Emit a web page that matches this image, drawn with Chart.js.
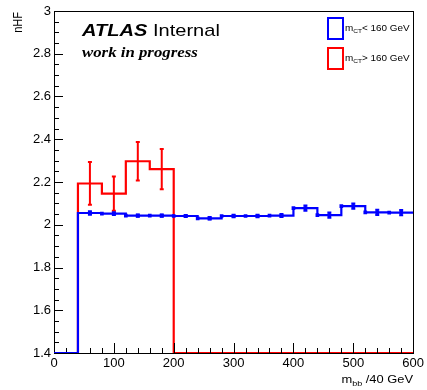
<!DOCTYPE html>
<html><head><meta charset="utf-8">
<script src="https://cdn.jsdelivr.net/npm/chart.js@4/dist/chart.umd.min.js"></script>
<style>html,body{margin:0;padding:0;background:#fff}#wrap{width:427px;height:390px;position:relative}</style>
</head><body><div id="wrap"><canvas id="c" width="427" height="390"></canvas></div>
<script>
// ---- data ----
const binEdges   = [0,40,80,120,160,200,240,280,320,360,400,440,480,520,560,600];
const blueValues = [0,2.055,2.052,2.043,2.043,2.041,2.030,2.041,2.041,2.043,2.078,2.045,2.087,2.058,2.057];
const blueErrors = [0,0.008,0.006,0.005,0.005,0.005,0.006,0.006,0.006,0.007,0.012,0.012,0.012,0.012,0.012];
const redValues  = [0,2.193,2.146,2.297,2.260,0,0,0,0,0,0,0,0,0,0];
const redErrors  = [0,0.100,0.080,0.090,0.094,0,0,0,0,0,0,0,0,0,0];
const blueMarkerX = [60,80,100,120,140,160,180,200,220,240,260,280,300,320,340,360,380,400,420,440,460,480,500,520,540,560,580];
const xTickValues = [0,100,200,300,400,500,600];
const yTickValues = [1.4,1.6,1.8,2,2.2,2.4,2.6,2.8,3];
const seriesLabels = [["m","CT","< 160 GeV"],["m","CT","> 160 GeV"]];
const xTitle = ["m","bb"," /40 GeV"];
const yTitle = "nHF";
const Y_MIN = 1.4, Y_MAX = 3, X_MIN = 0, X_MAX = 600;
const BLUE = '#0000ff', RED = '#ff0000';

function stepPoints(vals){
  const pts = vals.map((v,i)=>({x:binEdges[i], y:Math.max(v,Y_MIN)}));
  pts.push({x:binEdges[binEdges.length-1], y:Math.max(vals[vals.length-1],Y_MIN)});
  return pts;
}
function binOf(x){ let i=0; while(i<binEdges.length-2 && x>=binEdges[i+1]) i++; return i; }
const centers = binEdges.slice(0,-1).map((e,i)=>(e+binEdges[i+1])/2);

function richText(ctx, parts, x, y, align, size, subSize, subDrop, hs, style){
  ctx.save();
  const fam = '"Liberation Sans", Arial, sans-serif';
  const f1 = (style||'')+' '+size+'px '+fam, f2 = (style||'')+' '+subSize+'px '+fam;
  const fonts = parts.map((p,i)=> i%2===1 ? f2 : f1);
  let w = 0; const ws = parts.map((p,i)=>{ctx.font=fonts[i]; const m=ctx.measureText(p).width; w+=m; return m;});
  ctx.translate(x,y); ctx.scale(hs,1);
  let cx = align==='right' ? -w : 0;
  ctx.textBaseline='alphabetic'; ctx.textAlign='left';
  parts.forEach((p,i)=>{ ctx.font=fonts[i]; ctx.fillText(p, cx, i%2===1 ? subDrop : 0); cx += ws[i]; });
  ctx.restore();
}

const decor = {
  id:'decor',
  beforeDraw(chart){ const c=chart.ctx; c.save(); c.fillStyle='#fff'; c.fillRect(0,0,chart.width,chart.height); c.restore(); },
  afterDatasetDraw(chart,args){
    if(args.index!==2) return;
    const ctx=chart.ctx, a=chart.chartArea, xs=chart.scales.x, ys=chart.scales.y;
    ctx.save();
    ctx.strokeStyle='#000'; ctx.lineWidth=1;
    ctx.strokeRect(Math.round(a.left)+0.5, Math.round(a.top)+0.5, Math.round(a.right-a.left), Math.round(a.bottom-a.top));
    ctx.beginPath();
    for(let v=X_MIN; v<=X_MAX+1e-6; v+=20){
      const px=Math.round(xs.getPixelForValue(v))+0.5;
      const major = Math.abs(v%100)<1e-6;
      ctx.moveTo(px, a.bottom); ctx.lineTo(px, a.bottom-(major?10:5));
    }
    for(let k=0; k<=32; k++){
      const v=Y_MIN+k*0.05;
      const py=Math.round(ys.getPixelForValue(v))+0.5;
      const major = k%4===0;
      ctx.moveTo(a.left, py); ctx.lineTo(a.left+(major?9:5), py);
    }
    ctx.stroke();
    ctx.restore();
  },
  afterDatasetsDraw(chart){
    const ctx=chart.ctx, a=chart.chartArea, xs=chart.scales.x, ys=chart.scales.y;
    ctx.save();
    function bars(vals, errs, color, lw){
      ctx.strokeStyle=color; ctx.lineWidth=lw; ctx.beginPath();
      vals.forEach((v,i)=>{
        if(!errs[i]) return;
        const px=xs.getPixelForValue(centers[i]);
        const y1=ys.getPixelForValue(v-errs[i]), y2=ys.getPixelForValue(v+errs[i]);
        ctx.moveTo(px,y1); ctx.lineTo(px,y2);
        ctx.moveTo(px-2,y1); ctx.lineTo(px+2,y1);
        ctx.moveTo(px-2,y2); ctx.lineTo(px+2,y2);
      });
      ctx.stroke();
    }
    bars(redValues, redErrors, RED, 2);
    bars(blueValues, blueErrors, BLUE, 2);
    // ATLAS label
    ctx.fillStyle='#000';
    ctx.save(); ctx.translate(82,36); ctx.scale(1.18,1);
    ctx.font='italic bold 17px "Liberation Sans", Arial, sans-serif'; ctx.textBaseline='alphabetic';
    ctx.fillText('ATLAS',0,0);
    const wA=ctx.measureText('ATLAS ').width;
    ctx.font='17px "Liberation Sans", Arial, sans-serif';
    ctx.fillText('Internal',wA,0);
    ctx.restore();
    ctx.save(); ctx.translate(82,57); ctx.scale(1.12,1);
    ctx.font='italic bold 15px "Liberation Serif", "Times New Roman", serif';
    ctx.fillText('work in progress',0,0);
    ctx.restore();
    // legend
    const leg=[[BLUE,18,31],[RED,48,61]];
    leg.forEach((l,i)=>{
      ctx.strokeStyle=l[0]; ctx.lineWidth=2;
      ctx.strokeRect(328, l[1], 15, 21);
      ctx.fillStyle='#000';
      richText(ctx, seriesLabels[i], 345, l[2], 'left', 9, 6, 2, 1.1, '');
    });
    // axis titles
    ctx.fillStyle='#000';
    richText(ctx, xTitle, 413, 383, 'right', 11.5, 8, 3, 1.12, '');
    ctx.save(); ctx.translate(19,12); ctx.rotate(-Math.PI/2); ctx.scale(1,1.15);
    ctx.font='11px "Liberation Sans", Arial, sans-serif'; ctx.textAlign='right'; ctx.textBaseline='middle';
    ctx.fillText(yTitle,0,0); ctx.restore();
    ctx.restore();
  }
};

new Chart(document.getElementById('c'), {
  type:'line',
  data:{ datasets:[
    { label:'markers', data: blueMarkerX.map(x=>({x, y:blueValues[binOf(x)]})), showLine:false,
      pointStyle:'rect', pointRadius:2.6, pointBackgroundColor:BLUE, pointBorderColor:BLUE, pointBorderWidth:0, borderColor:BLUE },
    { label:'m_CT< 160 GeV', data: stepPoints(blueValues), stepped:'before', borderColor:BLUE, borderWidth:2.2, pointRadius:0, fill:false },
    { label:'m_CT> 160 GeV', data: stepPoints(redValues), stepped:'before', borderColor:RED, borderWidth:2.2, pointRadius:0, fill:false }
  ]},
  options:{
    responsive:false, animation:false, devicePixelRatio:1,
    layout:{ padding:{ left:0, top:11, right:13, bottom:0 } },
    plugins:{ legend:{display:false}, tooltip:{enabled:false}, title:{display:false} },
    scales:{
      x:{ type:'linear', min:X_MIN, max:X_MAX,
          afterBuildTicks:s=>{ s.ticks = xTickValues.map(v=>({value:v})); },
          afterFit:s=>{ s.height = 37; },
          grid:{ display:false, drawTicks:false }, border:{ display:false },
          ticks:{ padding:3, maxRotation:0, autoSkip:false, color:'#000', font:{ family:'"Liberation Sans", Arial, sans-serif', size:13 }, callback:v=>String(v) } },
      y:{ type:'linear', min:Y_MIN, max:Y_MAX,
          afterBuildTicks:s=>{ s.ticks = yTickValues.map(v=>({value:v})); },
          afterFit:s=>{ s.width = 54; },
          grid:{ display:false, drawTicks:false }, border:{ display:false },
          ticks:{ padding:3, autoSkip:false, color:'#000', font:{ family:'"Liberation Sans", Arial, sans-serif', size:13 }, callback:v=>String(Number(Number(v).toFixed(1))) } }
    }
  },
  plugins:[decor]
});
</script></body></html>
